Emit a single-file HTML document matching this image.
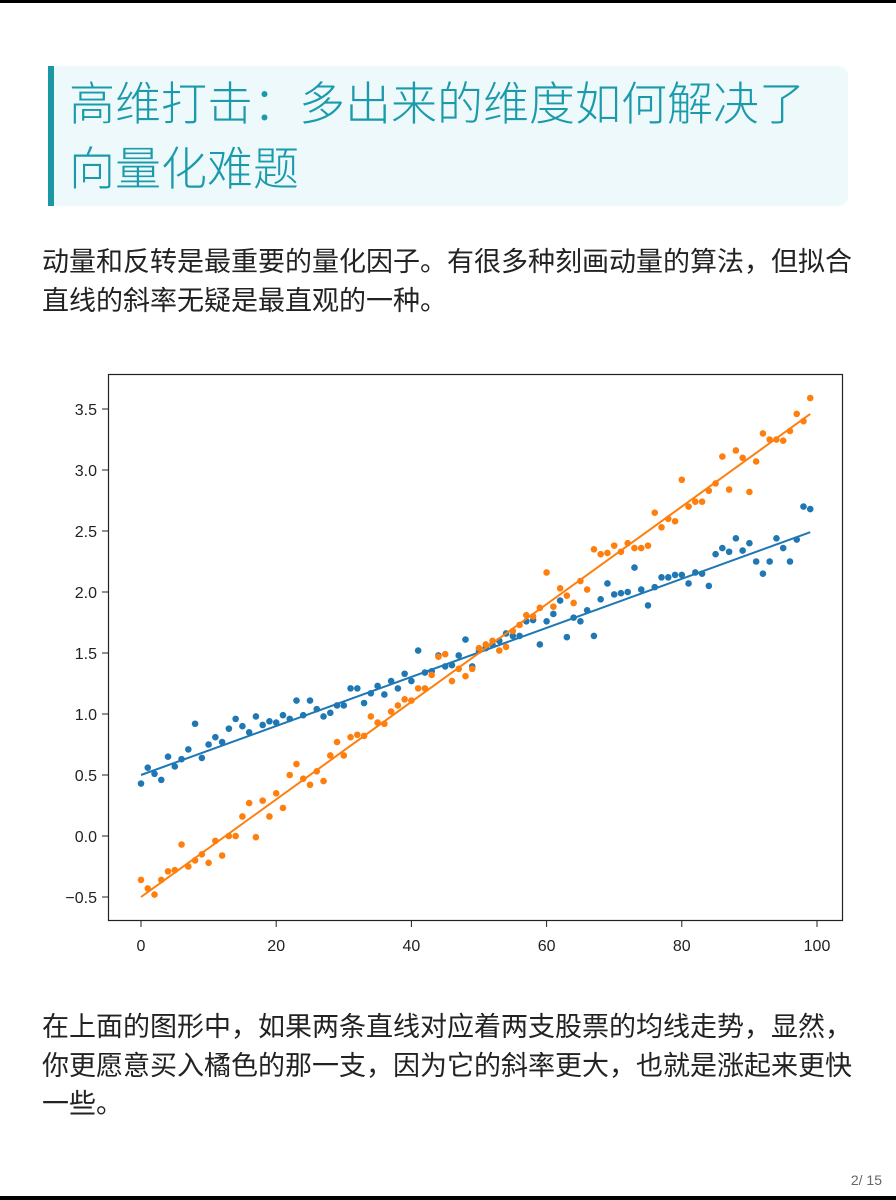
<!DOCTYPE html>
<html><head><meta charset="utf-8">
<style>
body{margin:0;width:896px;height:1200px;position:relative;background:#fff;overflow:hidden;font-family:"Liberation Sans","Noto Sans CJK SC",sans-serif;}
.bar{position:absolute;left:0;width:896px;background:#000;}
.tbox{position:absolute;left:48px;top:66px;width:800px;height:140px;background:#eef9fb;border-radius:0 10px 10px 0;}
.tbar{position:absolute;left:48px;top:66px;width:6px;height:140px;background:#1a98a6;}
.title{position:absolute;left:69px;top:72px;font-size:46px;line-height:65px;color:#1a9aab;font-weight:300;letter-spacing:0;}
.p{position:absolute;left:42px;font-size:27px;line-height:38.5px;color:#222;font-weight:400;width:830px;}
.pg{position:absolute;right:14px;top:1172px;font-size:14px;color:#666;}
svg{position:absolute;left:0;top:0;}
</style></head><body>
<div class="bar" style="top:0;height:3px"></div>
<div class="tbox"></div>
<div class="tbar"></div>
<div class="title">高维打击：多出来的维度如何解决了<br>向量化难题</div>
<div class="p" style="top:243px">动量和反转是最重要的量化因子。有很多种刻画动量的算法，但拟合<br>直线的斜率无疑是最直观的一种。</div>
<svg id="chart" width="896" height="1000"></svg>
<div class="p" style="top:1008px">在上面的图形中，如果两条直线对应着两支股票的均线走势，显然，<br>你更愿意买入橘色的那一支，因为它的斜率更大，也就是涨起来更快<br>一些。</div>
<div class="pg">2/ 15</div>
<div class="bar" style="top:1196px;height:4px"></div>
<script>
const blueValues=[0.43,0.56,0.51,0.46,0.65,0.57,0.63,0.71,0.92,0.64,0.75,0.81,0.77,0.88,0.96,0.9,0.85,0.98,0.91,0.94,0.93,0.99,0.96,1.11,0.99,1.11,1.04,0.98,1.01,1.07,1.07,1.21,1.21,1.09,1.17,1.23,1.16,1.27,1.21,1.33,1.27,1.52,1.34,1.35,1.48,1.39,1.40,1.48,1.61,1.39,1.52,1.54,1.57,1.60,1.66,1.64,1.64,1.76,1.77,1.57,1.76,1.82,1.93,1.63,1.79,1.76,1.85,1.64,1.94,2.07,1.98,1.99,2.0,2.2,2.02,1.89,2.04,2.12,2.12,2.14,2.14,2.07,2.16,2.15,2.05,2.31,2.36,2.33,2.44,2.34,2.40,2.25,2.15,2.25,2.44,2.36,2.25,2.43,2.70,2.68];
const orangeValues=[-0.36,-0.43,-0.48,-0.36,-0.29,-0.28,-0.07,-0.25,-0.2,-0.15,-0.22,-0.04,-0.16,0.0,0.0,0.16,0.27,-0.01,0.29,0.16,0.35,0.23,0.5,0.59,0.47,0.42,0.53,0.45,0.66,0.77,0.66,0.81,0.83,0.82,0.98,0.93,0.92,1.02,1.07,1.12,1.11,1.21,1.21,1.32,1.47,1.49,1.27,1.37,1.31,1.37,1.54,1.57,1.60,1.52,1.55,1.68,1.73,1.81,1.8,1.87,2.16,1.88,2.03,1.97,1.91,2.09,2.02,2.35,2.31,2.32,2.38,2.33,2.4,2.36,2.36,2.38,2.65,2.53,2.6,2.58,2.92,2.7,2.74,2.74,2.83,2.89,3.11,2.84,3.16,3.1,2.82,3.07,3.3,3.25,3.25,3.24,3.32,3.46,3.4,3.59];
const blueLine=[0.50,2.49];
const orangeLine=[-0.50,3.46];
const xTicks=[0,20,40,60,80,100];
const yTicks=[-0.5,0.0,0.5,1.0,1.5,2.0,2.5,3.0,3.5];
const NS="http://www.w3.org/2000/svg";
const svg=document.getElementById('chart');
const X=v=>141+v*6.76;
const Y=v=>836-v*122;
function mk(t,a){const e=document.createElementNS(NS,t);for(const k in a)e.setAttribute(k,a[k]);svg.appendChild(e);return e;}
const frame=mk('rect',{x:108.5,y:374.5,width:734,height:546,fill:'none',stroke:'#222','stroke-width':1.2});


xTicks.forEach(t=>{
 const l=mk('line',{x1:X(t),x2:X(t),y1:921,y2:927,stroke:'#222'});
 
 
 const tx=mk('text',{x:X(t),y:951,'text-anchor':'middle','font-size':16,fill:'#222'});
 tx.textContent=t;
 
 
});
yTicks.forEach(t=>{
 const l=mk('line',{x1:102,x2:108,y1:Y(t),y2:Y(t),stroke:'#222'});
 
 
 const tx=mk('text',{x:97,y:Y(t)+6,'text-anchor':'end','font-size':16,fill:'#222'});
 tx.textContent=(t<0?'\u2212':'')+Math.abs(t).toFixed(1);
 
 
});
function series(vals,line,col,name){
 vals.forEach((v,i)=>{
  const c=mk('circle',{cx:X(i),cy:Y(v),r:3.3,fill:col});
  
  
 });
 const l=mk('line',{x1:X(0),y1:Y(line[0]),x2:X(vals.length-1),y2:Y(line[1]),stroke:col,'stroke-width':2});
 
 
}
series(blueValues,blueLine,'#1f77b4','blue');
series(orangeValues,orangeLine,'#ff7f0e','orange');
</script>
</body></html>
